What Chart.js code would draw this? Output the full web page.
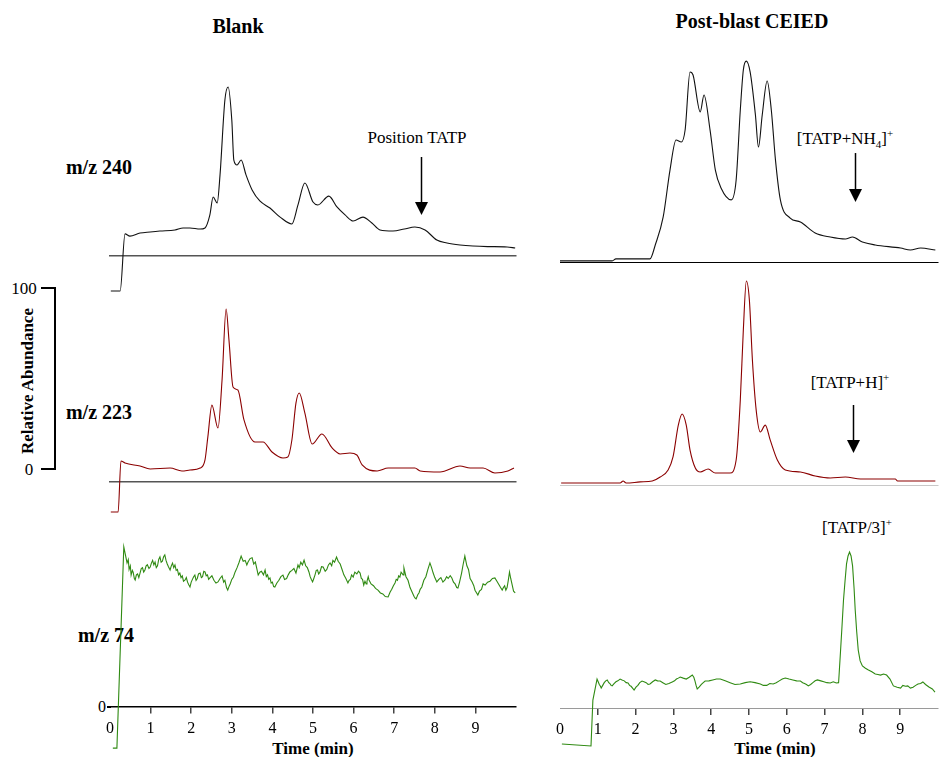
<!DOCTYPE html>
<html>
<head>
<meta charset="utf-8">
<script src="https://cdn.jsdelivr.net/npm/chart.js@4.4.1/dist/chart.umd.min.js"></script>
<style>
  html, body { margin: 0; padding: 0; background: #fff; }
  #wrap { position: relative; width: 944px; height: 757px; overflow: hidden; background: #fff;
          font-family: 'Liberation Serif', 'Times New Roman', serif; color: #000; }
  canvas { position: absolute; }
  .lbl { position: absolute; white-space: nowrap; transform: translate(-50%, -50%); line-height: 1; }
  .b { font-weight: bold; font-size: 20px; }
  .r { font-size: 17px; }
  .t { font-size: 16px; }
  .ax { font-weight: bold; font-size: 17px; }
  sup, sub { font-size: 11px; line-height: 0; }
  .bar { position: absolute; background: #000; }
</style>
</head>
<body>
<div id="wrap">
  <div class="lbl b" style="left:238px; top:26px;">Blank</div>
  <div class="lbl b" style="left:752px; top:21px;">Post-blast CEIED</div>
  <div class="lbl b" style="left:99px; top:167px;">m/z 240</div>
  <div class="lbl b" style="left:99px; top:412px;">m/z 223</div>
  <div class="lbl b" style="left:106px; top:635px;">m/z 74</div>
  <div class="lbl r" style="left:417px; top:137px;">Position TATP</div>
  <div class="lbl r" style="left:845px; top:138px;">[TATP+NH<sub>4</sub>]<sup>+</sup></div>
  <div class="lbl r" style="left:850px; top:382px;">[TATP+H]<sup>+</sup></div>
  <div class="lbl r" style="left:857px; top:527px;">[TATP/3]<sup>+</sup></div>
  <div class="lbl ax" style="left:313px; top:748px;">Time (min)</div>
  <div class="lbl ax" style="left:775px; top:748px;">Time (min)</div>
  <div class="lbl ax" style="left:27px; top:381px; transform: translate(-50%, -50%) rotate(-90deg);">Relative Abundance</div>
  <div class="lbl r" style="left:24px; top:288px;">100</div>
  <div class="lbl r" style="left:29px; top:469px;">0</div>
  <div class="lbl t" style="left:102px; top:707px;">0</div>
  <div class="bar" style="left:41px; top:287px; width:15px; height:2px;"></div>
  <div class="bar" style="left:54px; top:287px; width:2px; height:183px;"></div>
  <div class="bar" style="left:41px; top:468px; width:15px; height:2px;"></div>
  <div class="bar" style="left:107px; top:706px; width:4px; height:2px;"></div>
</div>
<script>
// ---------------- DATA (time in min, relative abundance in %) ----------------
const blank240Time  = [0.02,0.25,0.37,0.49,0.74,0.99,1.23,1.60,1.80,1.97,2.22,2.34,2.46,2.54,2.64,2.71,2.83,2.91,3.00,3.05,3.13,3.23,3.35,3.50,3.69,3.94,4.19,4.48,4.63,4.80,5.00,5.12,5.39,5.59,5.79,5.99,6.23,6.45,6.65,6.97,7.25,7.51,7.76,8.05,8.30,8.62,8.94,9.30,9.78,9.98];
const blank240Abund = [-19.3,-19.3,12.2,11.0,12.7,13.3,13.8,14.4,15.5,15.5,14.9,15.5,22.7,32.6,29.3,44.8,86.2,93.4,75.1,53.0,50.3,53.0,44.8,36.5,30.4,26.5,21.5,17.7,28.2,40.3,29.8,28.2,33.1,27.1,22.7,19.3,21.5,18.2,14.4,13.8,14.9,16.0,14.4,8.8,7.2,6.1,5.5,5.2,5.0,4.4];

const blank223Time  = [0.02,0.20,0.27,0.37,0.74,0.99,1.48,1.77,1.97,2.22,2.34,2.41,2.51,2.66,2.76,2.86,2.93,3.03,3.15,3.30,3.57,3.77,3.99,4.26,4.38,4.48,4.58,4.66,4.80,4.98,5.22,5.47,5.67,5.91,6.08,6.21,6.58,6.85,7.51,7.64,8.13,8.62,8.87,9.19,9.48,9.80,9.95];
const blank223Abund = [-16.6,-16.6,11.6,10.5,8.8,7.2,7.7,6.1,6.6,7.7,12.2,24.9,42.5,29.8,56.4,95.6,78.5,52.5,50.8,34.3,22.1,22.1,16.6,13.3,13.8,23.2,43.6,49.2,38.1,21.0,26.5,18.8,15.5,16.0,14.9,9.4,6.1,7.7,7.7,6.1,5.5,8.8,7.7,7.7,5.0,6.1,7.7];

const blank74Time  = [0.07,0.17,0.34,0.38,0.42,0.45,0.47,0.50,0.52,0.55,0.57,0.60,0.62,0.65,0.68,0.71,0.74,0.77,0.80,0.83,0.86,0.89,0.92,0.96,0.99,1.02,1.05,1.08,1.11,1.14,1.17,1.20,1.23,1.26,1.29,1.32,1.35,1.38,1.41,1.44,1.48,1.51,1.54,1.57,1.60,1.63,1.66,1.69,1.72,1.75,1.78,1.81,1.85,1.88,1.91,1.94,1.97,2.00,2.03,2.06,2.09,2.12,2.15,2.18,2.22,2.25,2.28,2.31,2.34,2.37,2.40,2.43,2.46,2.51,2.56,2.61,2.66,2.71,2.76,2.80,2.83,2.87,2.90,2.93,2.96,3.00,3.04,3.08,3.13,3.18,3.23,3.28,3.33,3.37,3.40,3.45,3.50,3.54,3.58,3.62,3.65,3.69,3.73,3.78,3.82,3.85,3.88,3.91,3.94,3.97,4.00,4.03,4.06,4.11,4.16,4.21,4.26,4.30,4.35,4.39,4.43,4.48,4.53,4.58,4.63,4.66,4.70,4.74,4.78,4.82,4.86,4.90,4.93,4.96,4.99,5.02,5.05,5.08,5.11,5.14,5.17,5.21,5.25,5.30,5.34,5.38,5.42,5.46,5.49,5.53,5.58,5.62,5.67,5.72,5.76,5.81,5.86,5.89,5.92,5.95,5.99,6.03,6.08,6.12,6.16,6.19,6.22,6.25,6.28,6.31,6.33,6.36,6.38,6.43,6.49,6.54,6.60,6.66,6.72,6.78,6.85,6.90,6.94,6.98,7.02,7.05,7.08,7.11,7.14,7.17,7.19,7.22,7.24,7.29,7.34,7.39,7.44,7.47,7.49,7.52,7.54,7.58,7.61,7.64,7.68,7.73,7.78,7.83,7.88,7.92,7.96,8.00,8.05,8.10,8.15,8.20,8.25,8.29,8.33,8.38,8.42,8.46,8.50,8.54,8.57,8.61,8.66,8.70,8.74,8.79,8.83,8.87,8.92,8.96,8.99,9.03,9.06,9.10,9.15,9.19,9.24,9.30,9.36,9.42,9.48,9.53,9.57,9.62,9.66,9.69,9.72,9.75,9.78,9.81,9.84,9.87,9.90,9.94,9.98];
const blank74Abund = [-22.7,-22.7,88.4,84.0,79.6,81.5,76.0,78.0,72.9,75.5,74.5,71.0,70.2,73.0,73.5,71.5,74.0,76.5,77.0,74.5,75.7,78.0,78.6,76.5,77.3,79.5,81.0,78.5,80.1,77.0,78.0,81.5,82.9,80.0,80.5,83.0,84.0,81.0,79.0,77.5,75.7,78.0,79.5,77.0,78.5,75.5,76.0,73.0,74.0,71.5,72.5,69.5,70.2,71.5,69.0,67.5,66.3,69.0,70.5,72.0,72.9,70.0,71.0,73.5,74.0,71.5,72.0,75.0,74.6,72.5,73.0,70.5,71.3,72.5,70.0,68.5,69.1,71.0,72.4,69.0,70.0,66.0,64.6,66.5,68.0,70.5,71.8,74.5,77.0,80.0,83.4,80.5,81.0,78.5,80.1,82.0,82.5,79.0,80.1,76.0,72.9,74.5,75.0,73.0,75.7,72.0,73.0,70.5,71.3,68.5,69.0,66.5,66.3,68.5,70.0,72.0,72.9,70.5,71.0,73.0,74.6,75.5,76.5,74.0,78.5,77.0,80.0,78.5,81.2,78.0,77.0,74.6,72.0,70.5,69.1,71.0,73.0,75.5,75.7,73.5,74.5,77.5,77.3,75.0,76.0,78.5,79.6,78.0,81.0,80.0,82.9,80.5,79.0,75.7,73.0,71.0,68.5,70.0,70.5,73.0,71.8,74.5,73.5,75.0,74.0,71.0,70.5,67.4,69.5,68.0,69.5,72.0,70.2,68.0,67.0,65.5,64.6,63.0,62.5,61.0,60.8,63.5,65.0,67.0,68.5,70.5,70.0,72.5,71.8,74.5,74.5,73.0,76.8,72.0,70.0,66.0,63.5,62.0,61.0,60.0,59.7,62.0,63.0,65.0,66.3,70.0,72.0,76.0,79.6,77.0,74.0,71.5,69.1,70.5,71.5,69.0,70.2,72.0,71.0,72.5,71.3,69.0,68.0,66.0,65.7,69.0,74.0,79.0,83.4,78.0,76.0,71.0,69.1,67.0,64.5,63.0,61.9,64.0,65.0,68.0,67.4,69.0,69.5,71.0,71.3,69.5,68.0,66.0,64.6,66.0,67.0,64.6,66.0,70.0,74.6,71.0,68.0,64.0,63.0,65.0,66.5,64.0,65.7,66.5,64.6];

const cieed240Time  = [0.00,1.38,1.48,2.38,2.52,2.73,2.91,3.07,3.21,3.31,3.44,3.52,3.71,3.81,3.97,4.11,4.26,4.53,4.66,4.77,4.85,4.93,5.03,5.17,5.25,5.35,5.48,5.59,5.70,5.83,6.09,6.36,6.75,7.15,7.55,7.74,8.00,8.34,9.01,9.27,9.54,9.93];
const cieed240Abund = [0.6,0.6,1.7,1.7,9.4,24.9,50.8,67.4,66.3,72.9,105.0,103.3,82.9,92.3,72.9,50.8,40.9,34.3,45.3,84.0,106.1,111.0,105.0,81.2,63.5,81.2,100.0,84.0,56.4,34.3,24.3,22.1,16.0,13.8,12.7,13.8,11.0,9.4,7.7,6.6,7.7,6.6];

const cieed223Time  = [0.03,1.59,1.67,1.75,2.12,2.44,2.65,2.86,2.99,3.13,3.23,3.34,3.44,3.58,3.71,3.92,4.11,4.50,4.66,4.77,4.85,4.93,5.01,5.09,5.19,5.30,5.43,5.56,5.75,5.96,6.36,6.75,7.15,7.55,7.95,8.87,8.93,9.93];
const cieed223Abund = [1.1,1.1,2.2,1.1,1.7,2.2,4.4,8.3,15.5,33.1,39.2,33.1,19.3,9.4,7.2,8.8,6.6,6.6,13.8,47.0,85.6,112.7,102.2,69.1,41.4,29.3,33.1,24.9,13.8,8.3,7.2,5.0,3.9,4.4,3.3,3.3,2.2,2.2];

const cieed74Time  = [0.05,0.82,0.87,0.98,1.01,1.04,1.07,1.09,1.13,1.17,1.21,1.25,1.29,1.32,1.35,1.38,1.43,1.48,1.53,1.59,1.64,1.70,1.75,1.80,1.84,1.88,1.92,1.96,2.01,2.06,2.11,2.17,2.22,2.28,2.33,2.38,2.45,2.52,2.58,2.65,2.72,2.80,2.88,2.97,3.03,3.08,3.13,3.18,3.26,3.34,3.42,3.50,3.54,3.57,3.60,3.63,3.68,3.74,3.79,3.84,3.94,4.04,4.14,4.24,4.37,4.50,4.63,4.77,4.90,5.03,5.16,5.30,5.38,5.47,5.55,5.64,5.72,5.80,5.88,5.96,6.06,6.16,6.26,6.36,6.42,6.47,6.52,6.57,6.63,6.69,6.75,6.81,6.90,6.98,7.06,7.15,7.23,7.31,7.37,7.42,7.46,7.50,7.54,7.58,7.62,7.66,7.70,7.74,7.78,7.81,7.85,7.89,7.94,8.00,8.08,8.16,8.25,8.34,8.41,8.48,8.56,8.64,8.73,8.82,8.92,9.01,9.07,9.14,9.20,9.27,9.34,9.41,9.47,9.54,9.60,9.67,9.76,9.85,9.92,9.99];
const cieed74Abund = [-19.9,-21.0,4.4,16.0,14.5,13.0,12.0,11.0,12.5,14.0,15.0,15.5,14.0,13.5,12.5,12.2,13.5,14.5,15.0,16.0,15.5,15.0,14.0,13.8,12.5,12.0,11.0,9.9,11.5,12.5,14.0,14.9,14.5,14.0,13.0,13.3,14.5,15.5,15.0,14.9,14.0,13.0,13.5,14.4,15.0,16.0,16.5,17.1,16.5,16.0,17.0,18.2,17.0,15.0,12.5,10.5,11.5,13.0,14.0,14.9,15.0,15.5,16.0,16.0,15.0,14.0,13.0,13.3,14.0,14.5,14.0,13.3,12.5,12.5,13.5,13.3,14.0,15.0,16.0,16.6,16.0,15.5,15.0,14.9,14.0,13.5,13.0,12.2,13.0,14.0,15.0,15.5,15.0,14.5,14.0,13.8,14.5,13.8,14.0,30.9,45.0,59.7,70.0,79.6,84.0,86.2,84.0,78.5,66.0,54.1,42.0,32.0,26.0,23.2,22.0,21.0,20.0,18.8,18.5,18.2,18.8,18.2,16.0,12.2,11.5,11.0,12.5,12.0,12.2,11.0,11.5,12.5,13.3,13.5,14.4,13.0,11.6,10.5,8.8];

const xTickLabels = ['0','1','2','3','4','5','6','7','8','9'];

// arrow annotations: [time, abundance at tail, abundance at tip]
const arrowBlank240 = [7.66, 54.7, 22.7];
const arrowCieed240 = [7.81, 60.2, 33.1];
const arrowCieed223 = [7.74, 44.2, 17.7];

// ---------------- LAYOUT ----------------
const PX_PER_UNIT = 1.81;   // 100 % = 181 px (scale bar)
const FONT = "'Liberation Serif', 'Times New Roman', serif";
Chart.defaults.font.family = FONT;
Chart.defaults.color = '#000';

const COLS = {
  left:  { left: 80,  width: 450, padL: 30, padR: 14 },
  right: { left: 530, width: 414, padL: 30, padR: 6 }
};

const panels = [
  { col: 'left',  top: 60,  height: 240, axisPx: 256, time: blank240Time, abund: blank240Abund, color: '#111', smooth: true,
    border: { color: '#555', width: 1.5 }, bottom: false, arrow: arrowBlank240 },
  { col: 'left',  top: 300, height: 220, axisPx: 482, time: blank223Time, abund: blank223Abund, color: '#8b0000', smooth: true,
    border: { color: '#555', width: 1.5 }, bottom: false },
  { col: 'left',  top: 520, height: 237, axisPx: 707, time: blank74Time, abund: blank74Abund, color: '#2f8a12', smooth: false,
    border: { color: '#000', width: 1.5 }, bottom: true },
  { col: 'right', top: 40,  height: 235, axisPx: 262, time: cieed240Time, abund: cieed240Abund, color: '#111', smooth: true,
    border: { color: '#000', width: 1 }, bottom: false, arrow: arrowCieed240 },
  { col: 'right', top: 275, height: 225, axisPx: 485, time: cieed223Time, abund: cieed223Abund, color: '#8b0000', smooth: true,
    border: { color: '#c8c8c8', width: 1 }, bottom: false, arrow: arrowCieed223 },
  { col: 'right', top: 500, height: 257, axisPx: 708, time: cieed74Time, abund: cieed74Abund, color: '#2f8a12', smooth: false,
    border: { color: '#9a9a9a', width: 1 }, bottom: true }
];

const arrowPlugin = {
  id: 'tatpArrow',
  afterDatasetsDraw(chart, args, opts) {
    const a = opts && opts.spec;
    if (!a) return;
    const { ctx, scales: { x, y } } = chart;
    const px = Math.round(x.getPixelForValue(a[0])) + 0.5;
    const y1 = y.getPixelForValue(a[1]);
    const y2 = y.getPixelForValue(a[2]);
    ctx.save();
    ctx.strokeStyle = '#000';
    ctx.fillStyle = '#000';
    ctx.lineWidth = 1.5;
    ctx.beginPath(); ctx.moveTo(px, y1); ctx.lineTo(px, y2 - 10); ctx.stroke();
    ctx.beginPath(); ctx.moveTo(px - 6.5, y2 - 13); ctx.lineTo(px + 6.5, y2 - 13); ctx.lineTo(px, y2); ctx.closePath(); ctx.fill();
    ctx.restore();
  }
};

const wrap = document.getElementById('wrap');
panels.forEach((p) => {
  const c = COLS[p.col];
  const cv = document.createElement('canvas');
  cv.width = c.width; cv.height = p.height;
  cv.style.left = c.left + 'px'; cv.style.top = p.top + 'px';
  cv.style.width = c.width + 'px'; cv.style.height = p.height + 'px';
  wrap.appendChild(cv);

  const yMax = (p.axisPx - p.top) / PX_PER_UNIT;
  const yMin = -(p.top + p.height - p.axisPx) / PX_PER_UNIT;

  new Chart(cv, {
    type: 'line',
    data: {
      datasets: [{
        data: p.time.map((t, i) => ({ x: t, y: p.abund[i] })),
        borderColor: p.color,
        borderWidth: 1.1,
        pointRadius: 0,
        fill: false,
        cubicInterpolationMode: p.smooth ? 'monotone' : 'default',
        tension: 0
      }]
    },
    options: {
      responsive: false,
      animation: false,
      devicePixelRatio: 1,
      layout: { autoPadding: false, padding: { left: c.padL, right: c.padR, top: 0, bottom: 0 } },
      plugins: {
        legend: { display: false },
        tooltip: { enabled: false },
        tatpArrow: { spec: p.arrow || null }
      },
      scales: {
        x: {
          type: 'linear', min: 0, max: 10,
          position: { y: 0 },
          afterFit: (s) => { s.height = 0; },
          border: { display: true, color: p.border.color, width: p.border.width },
          grid: {
            display: p.bottom, drawOnChartArea: false, drawTicks: true, tickLength: 6, lineWidth: 1.5,
            tickColor: (ctx) => (ctx.tick && (ctx.tick.value === 0 || ctx.tick.value === 10)) ? 'rgba(0,0,0,0)' : '#444'
          },
          ticks: {
            display: p.bottom, stepSize: 1, padding: 6, maxRotation: 0, autoSkip: false,
            font: { family: FONT, size: 16 }, color: '#000',
            callback: (v) => (v >= 0 && v < xTickLabels.length) ? xTickLabels[v] : null
          }
        },
        y: {
          type: 'linear', min: yMin, max: yMax,
          display: false
        }
      }
    },
    plugins: p.arrow ? [arrowPlugin] : []
  });
});
</script>
</body>
</html>
